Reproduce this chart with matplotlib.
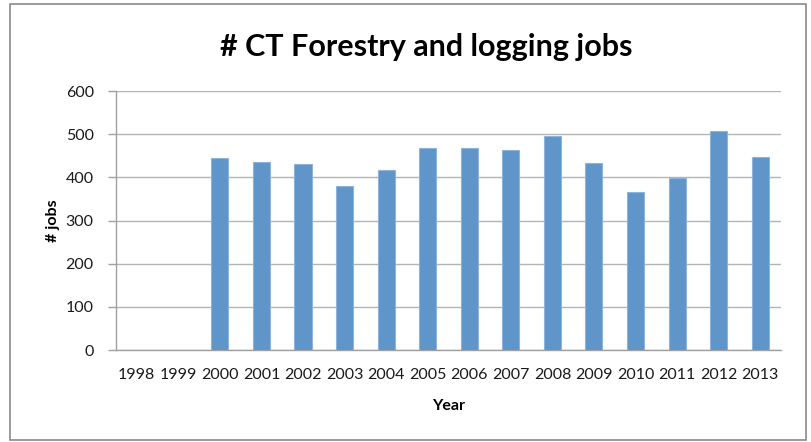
import matplotlib.pyplot as plt
import numpy as np
from matplotlib.patches import Rectangle

# data
years = ['1998', '1999', '2000', '2001', '2002', '2003', '2004', '2005',
         '2006', '2007', '2008', '2009', '2010', '2011', '2012', '2013']
jobs = [np.nan, np.nan, 444, 436, 432, 380, 418, 467,
        467, 463, 496, 434, 365, 399, 508, 448]
yticks = [0, 100, 200, 300, 400, 500, 600]

plt.rcParams['font.family'] = ['Lato', 'DejaVu Sans']

fig = plt.figure(figsize=(8.11, 4.42), dpi=100)
ax = fig.add_axes([0.143, 0.208, 0.820, 0.586])

x = np.arange(len(years))
ax.bar(x, jobs, width=0.41, color='#5F95C9', edgecolor='#8FB4DB',
       linewidth=0.8, zorder=3)

ax.set_xlim(-0.5, len(years) - 0.5)
ax.set_ylim(0, 600)
ax.set_yticks(yticks)
ax.set_xticks(x)
ax.set_xticklabels(years)
ax.yaxis.grid(True, color='#B4B4B4', linewidth=1.0, zorder=0)
ax.tick_params(axis='x', length=0, pad=13, labelsize=11.5, colors='#1a1a1a')
ax.tick_params(axis='y', length=6, width=1.0, color='#A0A0A0', pad=10,
               labelsize=11.5, labelcolor='#1a1a1a')

for s in ['top', 'right']:
    ax.spines[s].set_visible(False)
for s in ['left', 'bottom']:
    ax.spines[s].set_color('#A0A0A0')
    ax.spines[s].set_linewidth(1.0)

fig.text(0.525, 0.894, '# CT Forestry and logging jobs', fontsize=22,
         fontweight='bold', ha='center', va='center')
ax.set_xlabel('Year', fontsize=11.5, fontweight='bold', labelpad=12)
ax.yaxis.set_label_coords(52.5 / 811, 0.5, transform=fig.transFigure)
ax.set_ylabel('# jobs', fontsize=11.5, fontweight='bold', va='center')

# outer chart border
fig.patches.append(Rectangle((10 / 811, 2 / 442), 796 / 811, 436 / 442,
                             transform=fig.transFigure, fill=False,
                             edgecolor='#8A8A8A', linewidth=1.2))

fig.savefig('out.png', dpi=100)
